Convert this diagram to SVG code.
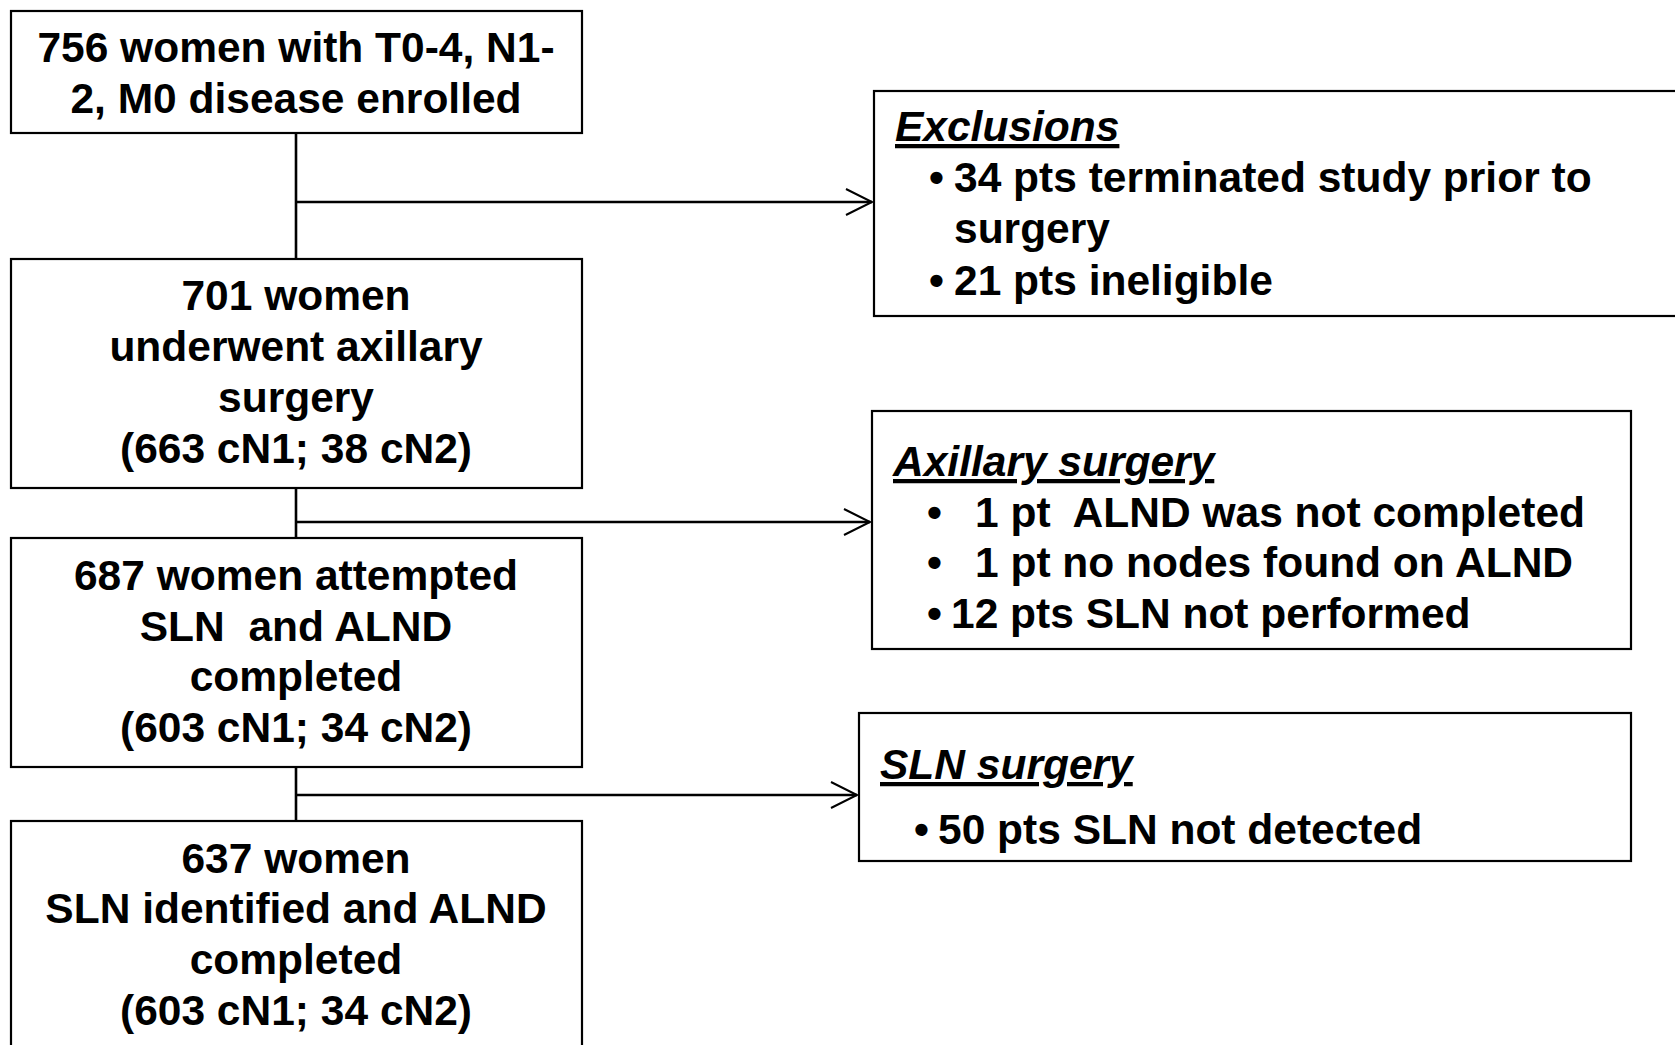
<svg xmlns="http://www.w3.org/2000/svg" width="1675" height="1045" viewBox="0 0 1675 1045">
<style>
.box{fill:#fff;stroke:#000;stroke-width:2.2}
.t{font-family:"Liberation Sans",Arial,sans-serif;font-weight:bold;font-size:42.5px;fill:#000}
.c{text-anchor:middle}
.h{font-style:italic;text-decoration:underline}
.ln{fill:none;stroke:#000;stroke-width:2.6}
</style>
<defs>
<marker id="arr" markerWidth="30" markerHeight="30" refX="27" refY="14" orient="auto" markerUnits="userSpaceOnUse">
<path d="M1,1 L27,14 L1,27" fill="none" stroke="#000" stroke-width="2"/>
</marker>
</defs>
<rect width="1675" height="1045" fill="#fff"/>
<g id="connectors">
<line class="ln" x1="296" y1="133" x2="296" y2="259"/>
<line class="ln" x1="296" y1="488" x2="296" y2="538"/>
<line class="ln" x1="296" y1="767" x2="296" y2="821"/>
<line class="ln" x1="296" y1="202" x2="872" y2="202" marker-end="url(#arr)"/>
<line class="ln" x1="296" y1="522" x2="870" y2="522" marker-end="url(#arr)"/>
<line class="ln" x1="296" y1="795" x2="857" y2="795" marker-end="url(#arr)"/>
</g>
<g id="enrolled">
<rect class="box" x="11" y="11" width="571" height="122"/>
<text class="t c" x="296" y="62">756 women with T0-4, N1-</text>
<text class="t c" x="296" y="113">2, M0 disease enrolled</text>
</g>
<g id="axillary-surgery">
<rect class="box" x="11" y="259" width="571" height="229"/>
<text class="t c" x="296" y="310">701 women</text>
<text class="t c" x="296" y="361">underwent axillary</text>
<text class="t c" x="296" y="412">surgery</text>
<text class="t c" x="296" y="463">(663 cN1; 38 cN2)</text>
</g>
<g id="attempted">
<rect class="box" x="11" y="538" width="571" height="229"/>
<text class="t c" x="296" y="590">687 women attempted</text>
<text class="t c" x="296" y="641" xml:space="preserve">SLN  and ALND</text>
<text class="t c" x="296" y="691">completed</text>
<text class="t c" x="296" y="742">(603 cN1; 34 cN2)</text>
</g>
<g id="identified">
<rect class="box" x="11" y="821" width="571" height="240"/>
<text class="t c" x="296" y="873">637 women</text>
<text class="t c" x="296" y="923">SLN identified and ALND</text>
<text class="t c" x="296" y="974">completed</text>
<text class="t c" x="296" y="1025">(603 cN1; 34 cN2)</text>
</g>
<g id="exclusions">
<rect class="box" x="874" y="91" width="820" height="225"/>
<text class="t h" x="895" y="141">Exclusions</text>
<text class="t" x="929" y="192">•</text>
<text class="t" x="954" y="192">34 pts terminated study prior to</text>
<text class="t" x="954" y="243">surgery</text>
<text class="t" x="929" y="295">•</text>
<text class="t" x="954" y="295">21 pts ineligible</text>
</g>
<g id="axillary-exclusions">
<rect class="box" x="872" y="411" width="759" height="238"/>
<text class="t h" x="893" y="476">Axillary surgery</text>
<text class="t" x="927" y="527">•</text>
<text class="t" x="975" y="527" xml:space="preserve">1 pt  ALND was not completed</text>
<text class="t" x="927" y="577">•</text>
<text class="t" x="975" y="577">1 pt no nodes found on ALND</text>
<text class="t" x="927" y="628">•</text>
<text class="t" x="951" y="628">12 pts SLN not performed</text>
</g>
<g id="sln-exclusions">
<rect class="box" x="859" y="713" width="772" height="148"/>
<text class="t h" x="880" y="779">SLN surgery</text>
<text class="t" x="914" y="844">•</text>
<text class="t" x="938" y="844">50 pts SLN not detected</text>
</g>
</svg>
